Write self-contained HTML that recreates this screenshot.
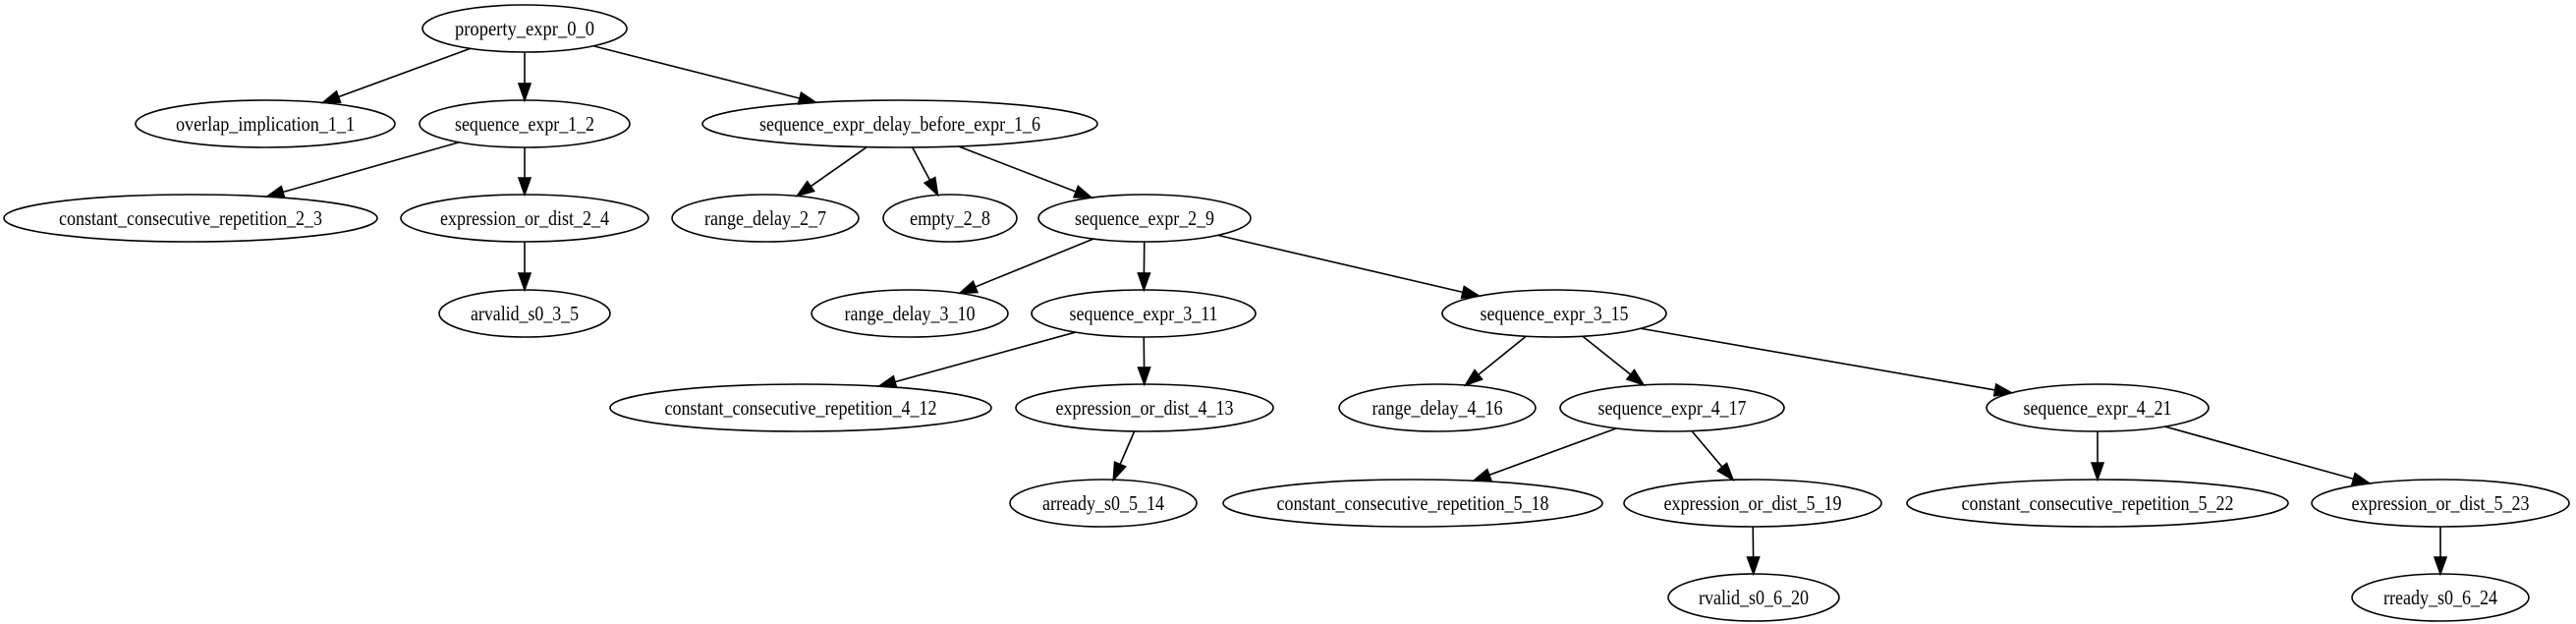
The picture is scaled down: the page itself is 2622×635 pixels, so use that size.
<!DOCTYPE html>
<html><head><meta charset="utf-8"><style>html,body{margin:0;padding:0;background:#fff}svg{display:block}</style></head>
<body>
<svg id="g" xmlns="http://www.w3.org/2000/svg" width="2622" height="635" viewBox="0 0 2622 635">
<rect width="2622" height="635" fill="#fff"/>
<g id="edges" stroke="#000" stroke-width="1.6" fill="#000"></g>
<g id="nodes" fill="none" stroke="#000" stroke-width="1.6"></g>
<g id="labels" font-family="'Liberation Serif', serif" font-size="21" text-anchor="middle" fill="#000">
<text x="534" y="36" textLength="142" lengthAdjust="spacingAndGlyphs">property_expr_0_0</text>
<text x="270" y="133" textLength="182" lengthAdjust="spacingAndGlyphs">overlap_implication_1_1</text>
<text x="534" y="133" textLength="142" lengthAdjust="spacingAndGlyphs">sequence_expr_1_2</text>
<text x="916" y="133" textLength="286" lengthAdjust="spacingAndGlyphs">sequence_expr_delay_before_expr_1_6</text>
<text x="194" y="229" textLength="268" lengthAdjust="spacingAndGlyphs">constant_consecutive_repetition_2_3</text>
<text x="534" y="229" textLength="172" lengthAdjust="spacingAndGlyphs">expression_or_dist_2_4</text>
<text x="779" y="229" textLength="124" lengthAdjust="spacingAndGlyphs">range_delay_2_7</text>
<text x="967" y="229" textLength="82" lengthAdjust="spacingAndGlyphs">empty_2_8</text>
<text x="1165" y="229" textLength="142" lengthAdjust="spacingAndGlyphs">sequence_expr_2_9</text>
<text x="534" y="326" textLength="110" lengthAdjust="spacingAndGlyphs">arvalid_s0_3_5</text>
<text x="926" y="326" textLength="133" lengthAdjust="spacingAndGlyphs">range_delay_3_10</text>
<text x="1164" y="326" textLength="151" lengthAdjust="spacingAndGlyphs">sequence_expr_3_11</text>
<text x="1582" y="326" textLength="151" lengthAdjust="spacingAndGlyphs">sequence_expr_3_15</text>
<text x="815" y="422" textLength="277" lengthAdjust="spacingAndGlyphs">constant_consecutive_repetition_4_12</text>
<text x="1165" y="422" textLength="181" lengthAdjust="spacingAndGlyphs">expression_or_dist_4_13</text>
<text x="1463" y="422" textLength="133" lengthAdjust="spacingAndGlyphs">range_delay_4_16</text>
<text x="1702" y="422" textLength="151" lengthAdjust="spacingAndGlyphs">sequence_expr_4_17</text>
<text x="2135" y="422" textLength="151" lengthAdjust="spacingAndGlyphs">sequence_expr_4_21</text>
<text x="1123" y="519" textLength="124" lengthAdjust="spacingAndGlyphs">arready_s0_5_14</text>
<text x="1438" y="519" textLength="277" lengthAdjust="spacingAndGlyphs">constant_consecutive_repetition_5_18</text>
<text x="1784" y="519" textLength="181" lengthAdjust="spacingAndGlyphs">expression_or_dist_5_19</text>
<text x="2135" y="519" textLength="277" lengthAdjust="spacingAndGlyphs">constant_consecutive_repetition_5_22</text>
<text x="2484" y="519" textLength="181" lengthAdjust="spacingAndGlyphs">expression_or_dist_5_23</text>
<text x="1785" y="615" textLength="112" lengthAdjust="spacingAndGlyphs">rvalid_s0_6_20</text>
<text x="2484" y="615" textLength="116" lengthAdjust="spacingAndGlyphs">rready_s0_6_24</text>
</g>
</svg>
<script>
var R=[29,126,222,319,415,512,608],RY=24;
var N={
a00:[534,0,104],a11:[270,1,132],a12:[534,1,107],a16:[916,1,201],
a23:[194,2,190],a24:[534,2,126],a27:[779,2,95],a28:[967,2,68],a29:[1165,2,108],
a35:[534,3,87],a310:[926,3,100],a311:[1164,3,114],a315:[1582,3,114],
a412:[815,4,194],a413:[1165,4,131],a416:[1463,4,100],a417:[1702,4,114],a421:[2135,4,113],
a514:[1123,5,95],a518:[1438,5,193],a519:[1784,5,131],a522:[2135,5,194],a523:[2484,5,131],
a620:[1785,6,87],a624:[2484,6,90]};
var E=[["a00","a11"],["a00","a12"],["a00","a16"],["a12","a23"],["a12","a24"],["a16","a27"],["a16","a28"],["a16","a29"],["a24","a35"],["a29","a310"],["a29","a311"],["a29","a315"],["a311","a412"],["a311","a413"],["a315","a416"],["a315","a417"],["a315","a421"],["a413","a514"],["a417","a518"],["a417","a519"],["a421","a522"],["a421","a523"],["a519","a620"],["a523","a624"]];
var ns="http://www.w3.org/2000/svg",ng=document.getElementById("nodes"),eg=document.getElementById("edges");
for(var k in N){var n=N[k],e=document.createElementNS(ns,"ellipse");e.setAttribute("cx",n[0]);e.setAttribute("cy",R[n[1]]);e.setAttribute("rx",n[2]);e.setAttribute("ry",RY);ng.appendChild(e);}
function clip(n,dx,dy){var t=1/Math.sqrt((dx/n[2])*(dx/n[2])+(dy/RY)*(dy/RY));return t;}
E.forEach(function(p){var a=N[p[0]],b=N[p[1]];var ax=a[0],ay=R[a[1]],bx=b[0],by=R[b[1]];
var dx=bx-ax,dy=by-ay;var t1=clip(a,dx,dy),t2=clip(b,-dx,-dy);
var sx=ax+dx*t1,sy=ay+dy*t1,ex=bx-dx*t2,ey=by-dy*t2;
var L=Math.hypot(ex-sx,ey-sy),ux=(ex-sx)/L,uy=(ey-sy)/L,AL=17,AW=6;
var bx2=ex-ux*AL,by2=ey-uy*AL;
var l=document.createElementNS(ns,"line");l.setAttribute("x1",sx);l.setAttribute("y1",sy);l.setAttribute("x2",bx2);l.setAttribute("y2",by2);eg.appendChild(l);
var pg=document.createElementNS(ns,"polygon");pg.setAttribute("points",ex+","+ey+" "+(bx2-uy*AW)+","+(by2+ux*AW)+" "+(bx2+uy*AW)+","+(by2-ux*AW));eg.appendChild(pg);});
</script>
</body></html>
